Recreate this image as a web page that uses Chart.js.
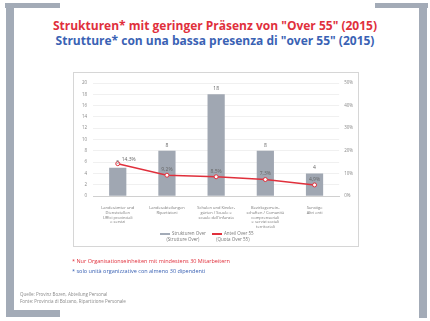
<!DOCTYPE html>
<html>
<head>
<meta charset="utf-8">
<script src="https://cdn.jsdelivr.net/npm/chart.js@4"></script>
<style>
  body { margin: 0; width: 430px; height: 321px; background: #fff; position: relative; overflow: hidden; font-family: "Open Sans", sans-serif; }
  .bar { position: absolute; background: #a3abb7; }
  .title { position: absolute; left: 0; width: 430px; text-align: center; font-weight: bold; font-size: 12px; white-space: nowrap; }
  #box { position: absolute; left: 73px; top: 72px; width: 284px; height: 173px; border: 1px solid #d6d6d6; }
  #wrap { position: absolute; left: 0; top: 0; width: 284px; height: 158px; }
  .legend { position: absolute; top: 157px; font-size: 4.5px; color: #777; line-height: 6px; text-align: center; }
  .legend i { display: inline-block; width: 10px; height: 2px; vertical-align: middle; margin-right: 2px; }
  .note { position: absolute; left: 72px; font-size: 5.5px; white-space: nowrap; }
  .src { position: absolute; left: 20px; font-size: 4.5px; color: #8a8a8a; line-height: 7px; white-space: nowrap; }
</style>
</head>
<body>
<!-- frame -->
<div class="bar" style="left:5px;top:3px;width:55px;height:5px"></div>
<div class="bar" style="left:6px;top:3px;width:8px;height:314px"></div>
<div class="bar" style="left:6px;top:310px;width:54px;height:7px"></div>
<div class="bar" style="left:375px;top:3px;width:53px;height:5px"></div>
<div class="bar" style="left:419px;top:3px;width:8px;height:315px"></div>

<div class="title" style="top:17px;color:#e0303c">Strukturen* mit geringer Präsenz von "Over 55" (2015)</div>
<div class="title" style="top:32px;color:#3a62b4">Strutture* con una bassa presenza di "over 55" (2015)</div>

<div id="box">
  <div id="wrap"><canvas id="c"></canvas></div>
  <div class="legend" style="left:86px"><i style="background:#a3abb7"></i>Strukturen Over<br>(Strutture Over)</div>
  <div class="legend" style="left:138px"><i style="background:#e0303c"></i>Anteil Over 55<br>(Quota Over 55)</div>
</div>

<div class="note" style="top:257px;color:#e0303c">* Nur Organisationseinheiten mit mindestens 30 Mitarbeitern</div>
<div class="note" style="top:267px;color:#3a62b4">* solo unità organizzative con almeno 30 dipendenti</div>

<div class="src" style="top:291px">Quelle: Provinz Bozen, Abteilung Personal<br>Fonte: Provincia di Bolzano, Ripartizione Personale</div>

<script>
// data
const categories = [
  ['Landesämter und', 'Dienststellen', 'Uffici provinciali', 'e servizi'],
  ['Landesabteilungen', 'Ripartizioni'],
  ['Schulen und Kinder-', 'gärten / Scuole e', 'scuole dell\'infanzia'],
  ['Bezirksgemein-', 'schaften / Comunità', 'comprensoriali', 'e servizi sociali', 'territoriali'],
  ['Sonstige', 'Altri enti']
];
const structures = [5, 8, 18, 8, 4];
const shareOver55 = [14.3, 9.2, 8.5, 7.3, 4.9];
const leftTicks = [0, 2, 4, 6, 8, 10, 12, 14, 16, 18, 20];
const rightTicks = [0, 10, 20, 30, 40, 50];

const gray = '#a0a7b2';
const red = '#e0303c';

// value labels over bars and points
const valueLabels = {
  id: 'valueLabels',
  afterDatasetsDraw(chart) {
    const ctx = chart.ctx;
    ctx.save();
    ctx.font = '5px "Open Sans"';
    ctx.fillStyle = '#666';
    ctx.textAlign = 'center';
    ctx.textBaseline = 'bottom';
    chart.getDatasetMeta(1).data.forEach((el, i) => {
      ctx.fillText(structures[i], el.x, el.y - 3);
    });
    chart.getDatasetMeta(0).data.forEach((el, i) => {
      const txt = shareOver55[i].toFixed(1).replace('.', ',') + '%';
      if (i === 0) {
        ctx.textAlign = 'left';
        ctx.fillText(txt, el.x + 4, el.y - 2);
        ctx.textAlign = 'center';
      } else {
        ctx.fillText(txt, el.x, el.y - 3);
      }
    });
    ctx.restore();
  }
};

new Chart(document.getElementById('c'), {
  type: 'bar',
  data: {
    labels: categories,
    datasets: [
      {
        type: 'line',
        label: 'Anteil Over 55',
        data: shareOver55,
        yAxisID: 'y1',
        borderColor: red,
        borderWidth: 1.5,
        pointRadius: 2,
        pointBackgroundColor: '#fff',
        pointBorderColor: red,
        pointBorderWidth: 1,
        order: 0
      },
      {
        label: 'Strukturen',
        data: structures,
        yAxisID: 'y',
        backgroundColor: gray,
        barPercentage: 0.35,
        categoryPercentage: 1,
        order: 1
      }
    ]
  },
  options: {
    responsive: true,
    maintainAspectRatio: false,
    animation: false,
    layout: { padding: { left: 2, right: 0, top: 10, bottom: 0 } },
    plugins: { legend: { display: false }, tooltip: { enabled: false } },
    scales: {
      x: {
        grid: { display: false },
        border: { color: '#d0d0d0' },
        ticks: { font: { size: 4, family: 'Open Sans', lineHeight: 1.15 }, color: '#777', maxRotation: 0, autoSkip: false, padding: 2 }
      },
      y: {
        min: 0, max: 20,
        afterBuildTicks: axis => { axis.ticks = leftTicks.map(v => ({ value: v })); },
        grid: { color: '#e6e6e6', lineWidth: 0.6, drawTicks: false },
        border: { display: false },
        ticks: { font: { size: 4.5, family: 'Open Sans' }, color: '#888', padding: 6 }
      },
      y1: {
        position: 'right',
        min: 0, max: 50,
        afterBuildTicks: axis => { axis.ticks = rightTicks.map(v => ({ value: v })); },
        grid: { display: false, drawTicks: false },
        border: { display: false },
        ticks: { font: { size: 4.5, family: 'Open Sans' }, color: '#888', padding: 5, callback: v => v + '%' }
      }
    }
  },
  plugins: [valueLabels]
});
</script>
</body>
</html>
